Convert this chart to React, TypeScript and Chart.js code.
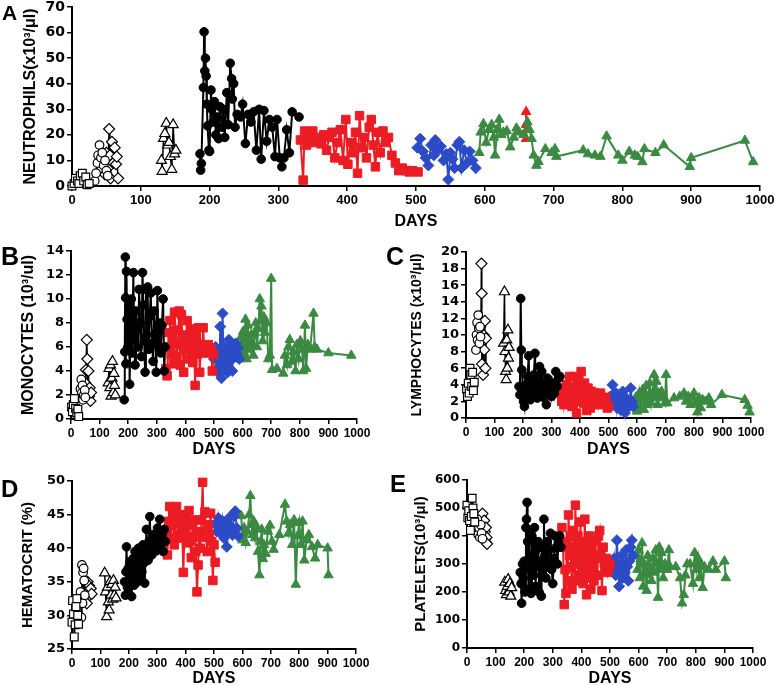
import React, { useEffect, useRef } from "react";
import { Chart, registerables } from "chart.js";

Chart.register(...registerables);

type P = [number, number];

// ---------- Panel A : NEUTROPHILS ----------
const neutSquares: P[] = [[0, 0], [3, 1], [5, 3], [8, 2], [10, 1], [12, 4], [15, 5], [17, 2], [20, 3.5], [22, 0.5], [25, 1]];
const neutCircles: P[] = [[33, 2], [35, 5], [37, 9], [38, 12], [40, 16], [42, 11], [44, 13], [46, 8], [48, 10], [50, 6], [52, 4]];
const neutDiamonds: P[] = [[45, 9], [48, 4.5], [50, 13], [52, 7], [54, 22.3], [55, 12], [56, 3], [58, 17.3], [60, 9], [62, 15], [64, 8.5], [65, 11.5], [67, 3]];
const neutTriangles: P[] = [[130, 10], [131, 5.7], [133, 18.6], [135, 20.5], [137, 24.5], [139, 16], [141, 17], [143, 11.5], [145, 6.5], [147, 24], [149, 12.5], [151, 14]];
const neutBlack: P[] = [[186, 12.6], [187, 6.2], [188, 8.8], [191, 38.5], [192, 60.3], [193, 45], [194, 50], [195, 43], [196, 32], [197, 23.5], [199, 14], [200, 13.5], [202, 37.5], [203, 30], [205, 25], [207, 33], [209, 20], [211, 27], [213, 18.5], [215, 31], [218, 23], [220, 30], [222, 19], [225, 36.5], [227, 24], [230, 48], [232, 42], [233, 34], [235, 40], [237, 23], [240, 28], [245, 27], [248, 32], [252, 16.6], [256, 28], [260, 25], [264, 29], [268, 14], [272, 30], [275, 10.5], [279, 29.5], [283, 17.5], [287, 26], [291, 23], [295, 11.5], [298, 26], [302, 11], [305, 7.5], [308, 11], [312, 22], [316, 13], [320, 29], [330, 27]];
const neutRed: P[] = [[332, 18], [336, 2.3], [338, 21.5], [341, 16], [345, 19], [350, 21.5], [353, 17], [358, 19], [362, 16.5], [366, 20], [370, 14], [374, 19], [378, 21], [382, 11], [386, 17], [390, 22], [394, 10], [398, 26], [401, 8.5], [405, 17], [409, 13], [412, 21], [415, 5], [418, 27.5], [421, 15], [425, 19], [428, 11], [432, 23], [435, 26], [438, 16], [441, 7.5], [444, 21], [448, 13], [452, 21.5], [456, 17], [460, 19], [465, 12], [470, 9], [475, 6], [480, 7], [485, 6], [490, 5.5], [495, 6], [503, 5.5]];
const neutBlue: P[] = [[502, 15], [506, 18.5], [510, 13.5], [514, 11], [518, 8], [522, 16], [526, 12], [528, 18], [532, 14], [536, 15.5], [540, 10], [544, 12.5], [547, 2.5], [550, 13], [553, 10.5], [556, 7], [560, 16], [563, 17.3], [566, 7], [570, 14], [574, 9], [578, 13.5], [582, 10], [587, 7]];
const neutGreen: P[] = [[592, 13], [594, 21], [598, 24.3], [602, 17], [606, 22], [610, 24], [613, 19], [615, 12], [618, 22], [621, 26], [624, 20], [627, 21], [632, 21.5], [637, 15.2], [642, 19], [646, 22.6], [650, 21], [656, 20], [662, 25], [665, 22], [668, 18.5], [671, 12], [675, 8], [678, 9.5], [688, 14.5], [697, 13], [702, 14.5], [704, 11.5], [743, 14], [750, 12.5], [760, 12], [768, 11.5], [777, 19.5], [794, 12], [800, 10], [810, 13.5], [818, 12], [822, 11.5], [829, 9.4], [832, 14.5], [848, 13], [860, 16], [898, 7.5], [900, 11], [978, 17.8], [990, 9.4]];
const neutRedTriangles: P[] = [[660, 29], [660, 24], [661, 22], [660, 18.5]];

// ---------- Panel B : MONOCYTES ----------
const monoSquares: P[] = [[2, 1.0], [5, 0.6], [8, 1.2], [12, 1.7], [16, 0.9], [20, 0.5], [24, 0.8], [27, 0.2]];
const monoCircles: P[] = [[33, 2.5], [36, 3.3], [38, 2.2], [40, 2.8], [42, 1.6], [45, 2.0], [48, 2.4], [50, 1.8]];
const monoDiamonds: P[] = [[50, 3.0], [52, 4.1], [55, 6.6], [57, 5.0], [59, 2.3], [61, 4.0], [63, 1.9], [65, 2.6], [68, 1.5], [70, 2.2]];
const monoTriangles: P[] = [[130, 3.0], [133, 4.2], [136, 2.6], [138, 4.5], [140, 1.9], [143, 3.4], [145, 4.8], [148, 2.2], [150, 3.8], [152, 2.8], [155, 2.0]];
const monoBlack: P[] = [[186, 1.6], [188, 5.6], [190, 13.5], [191, 10.1], [192, 4.6], [194, 12.3], [196, 8.3], [199, 6.0], [203, 9.8], [205, 2.9], [208, 7.2], [211, 10.0], [214, 5.5], [218, 12.2], [221, 6.8], [224, 4.5], [227, 9.0], [231, 7.5], [235, 6.0], [238, 10.8], [242, 8.0], [246, 5.2], [250, 12.2], [253, 9.5], [256, 6.5], [259, 3.9], [262, 10.8], [265, 7.0], [268, 11.0], [271, 5.8], [275, 8.5], [279, 10.5], [283, 6.3], [287, 4.8], [291, 9.0], [295, 7.2], [298, 3.9], [302, 10.7], [306, 6.0], [310, 8.0], [314, 5.5], [318, 7.8], [322, 10.0], [326, 4.0], [329, 6.0]];
const monoRed: P[] = [[332, 4.2], [336, 3.6], [340, 6.0], [343, 7.2], [346, 8.2], [350, 5.4], [354, 6.6], [358, 4.6], [362, 8.9], [366, 7.4], [370, 5.2], [374, 6.2], [378, 9.0], [382, 4.5], [386, 8.7], [390, 6.4], [394, 3.9], [398, 7.0], [402, 5.8], [406, 8.2], [410, 6.3], [414, 5.0], [418, 7.5], [422, 5.6], [426, 4.7], [430, 7.0], [434, 2.8], [438, 6.8], [442, 5.4], [446, 7.6], [450, 3.9], [454, 6.2], [458, 5.5], [462, 7.6], [466, 5.8], [470, 6.0], [475, 5.6], [480, 6.2], [485, 5.5], [490, 5.8], [494, 4.0], [498, 5.4]];
const monoBlue: P[] = [[500, 5.0], [505, 6.0], [510, 4.2], [514, 5.5], [518, 3.8], [522, 7.7], [526, 3.4], [530, 8.8], [533, 5.0], [536, 6.0], [540, 4.3], [544, 5.5], [548, 3.9], [552, 6.6], [556, 4.8], [560, 5.6], [564, 4.0], [568, 6.2], [572, 5.2], [576, 6.3], [580, 5.4], [584, 5.9], [588, 5.0]];
const monoGreen: P[] = [[590, 5.0], [594, 6.8], [598, 5.3], [602, 7.3], [606, 5.5], [610, 8.3], [614, 5.0], [618, 7.8], [622, 6.3], [626, 5.8], [630, 7.0], [634, 6.3], [638, 5.3], [642, 7.2], [646, 8.0], [650, 6.0], [655, 7.5], [660, 10.0], [663, 8.2], [666, 9.4], [670, 6.5], [674, 8.5], [678, 7.2], [684, 8.0], [690, 5.0], [695, 5.3], [700, 11.7], [703, 4.1], [720, 4.2], [742, 3.8], [748, 5.3], [755, 4.5], [760, 6.0], [765, 6.6], [772, 4.8], [778, 5.6], [785, 4.0], [790, 6.2], [796, 5.0], [802, 6.5], [808, 5.8], [812, 4.0], [818, 7.8], [822, 4.2], [828, 6.2], [836, 5.8], [848, 8.8], [852, 6.0], [860, 5.8], [900, 5.5], [980, 5.3]];

// ---------- Panel C : LYMPHOCYTES ----------
const lymphSquares: P[] = [[2, 3.5], [5, 2.6], [8, 4.2], [11, 3.0], [14, 6.0], [17, 5.2], [20, 3.8], [23, 5.5], [26, 3.3], [29, 4.3]];
const lymphCircles: P[] = [[35, 8.2], [37, 10.0], [39, 11.5], [41, 9.4], [43, 12.4], [45, 10.8], [47, 9.0], [49, 11.0], [51, 9.8]];
const lymphDiamonds: P[] = [[50, 11.0], [52, 9.0], [54, 18.6], [55, 15.0], [56, 6.5], [58, 11.6], [60, 5.2], [62, 10.0], [64, 8.2], [66, 11.7], [68, 6.0], [70, 9.6]];
const lymphTriangles: P[] = [[132, 9.0], [135, 15.2], [137, 8.0], [139, 5.6], [141, 4.6], [143, 9.4], [145, 6.0], [147, 10.6], [149, 7.2], [151, 8.5]];
const lymphBlack: P[] = [[186, 3.8], [189, 2.8], [192, 14.4], [194, 8.2], [196, 5.8], [199, 3.5], [202, 2.0], [205, 1.4], [208, 4.0], [212, 2.8], [216, 5.0], [220, 7.5], [223, 3.2], [226, 2.2], [230, 4.6], [234, 3.0], [238, 5.2], [242, 7.8], [246, 3.6], [250, 2.4], [254, 4.4], [258, 6.2], [262, 3.0], [266, 5.6], [270, 2.5], [274, 4.0], [278, 3.4], [282, 1.6], [286, 4.8], [290, 2.8], [295, 3.6], [300, 2.6], [305, 4.2], [310, 3.0], [315, 5.6], [320, 3.8], [325, 4.8], [330, 5.0]];
const lymphRed: P[] = [[332, 3.0], [336, 2.0], [340, 3.6], [344, 1.6], [348, 2.6], [352, 4.0], [356, 2.2], [360, 3.4], [364, 5.0], [368, 2.8], [372, 1.4], [376, 3.8], [380, 5.0], [384, 2.4], [388, 0.6], [392, 3.2], [396, 4.6], [400, 2.0], [404, 5.6], [408, 3.0], [412, 1.8], [416, 4.2], [420, 2.6], [424, 0.9], [428, 3.6], [432, 2.2], [436, 1.2], [440, 3.2], [444, 2.6], [448, 1.8], [452, 3.0], [456, 2.2], [460, 2.8], [464, 1.6], [468, 2.4], [472, 3.0], [478, 2.2], [484, 1.8], [490, 2.5], [496, 1.2], [500, 1.4]];
const lymphBlue: P[] = [[502, 2.0], [506, 2.6], [510, 1.6], [514, 4.0], [518, 2.4], [522, 1.8], [526, 3.0], [530, 1.2], [534, 2.2], [538, 2.8], [542, 1.0], [546, 2.0], [550, 3.2], [554, 1.5], [558, 0.6], [562, 2.4], [566, 1.2], [570, 2.0], [574, 1.6], [578, 3.6], [582, 2.0], [586, 1.4]];
const lymphGreen: P[] = [[596, 2.5], [600, 0.8], [604, 2.0], [608, 3.0], [612, 1.2], [616, 2.4], [620, 3.4], [624, 1.0], [628, 2.8], [632, 3.9], [636, 1.6], [640, 2.6], [645, 4.2], [650, 1.8], [655, 3.0], [660, 5.2], [664, 2.4], [668, 4.4], [672, 1.6], [676, 3.0], [680, 2.6], [686, 3.2], [692, 2.4], [698, 1.8], [702, 5.2], [706, 1.8], [730, 2.4], [750, 2.6], [765, 3.0], [772, 2.0], [780, 2.6], [788, 1.6], [795, 2.4], [800, 3.0], [806, 1.8], [812, 0.7], [818, 2.4], [824, 1.2], [830, 2.2], [840, 2.0], [852, 2.4], [860, 1.6], [898, 2.8], [978, 2.2], [988, 1.5], [995, 0.7]];

// ---------- Panel D : HEMATOCRIT ----------
const hctSquares: P[] = [[0, 29.0], [2, 32.2], [5, 30.2], [8, 26.8], [11, 28.6], [14, 31.3], [17, 32.5], [20, 30.0], [23, 28.7]];
const hctCircles: P[] = [[30, 33.5], [33, 29.7], [35, 37.5], [37, 31.8], [39, 36.4], [41, 37.0], [43, 35.2], [45, 33.0]];
const hctDiamonds: P[] = [[47, 33.2], [50, 34.8], [52, 31.8], [55, 35.0], [58, 33.6], [60, 34.4], [63, 33.0], [66, 34.0], [69, 33.2]];
const hctTriangles: P[] = [[115, 36.3], [118, 33.5], [122, 29.8], [125, 34.2], [128, 32.0], [131, 30.8], [134, 35.0], [137, 33.0], [140, 34.6], [143, 32.4], [146, 35.2], [149, 33.0], [152, 34.2], [155, 32.6]];
const hctBlack: P[] = [[185, 35.0], [188, 33.0], [190, 36.5], [192, 40.2], [195, 34.2], [198, 37.0], [201, 33.2], [204, 38.0], [207, 35.6], [210, 32.8], [213, 36.8], [216, 38.5], [219, 34.5], [222, 39.5], [225, 36.2], [228, 38.8], [231, 35.0], [234, 40.0], [237, 37.2], [240, 35.8], [243, 39.0], [246, 36.5], [250, 40.5], [253, 37.8], [256, 34.8], [259, 38.8], [262, 42.8], [265, 40.0], [268, 38.2], [271, 41.0], [274, 44.7], [277, 40.5], [281, 39.0], [285, 42.0], [289, 40.8], [293, 41.6], [297, 39.6], [301, 43.0], [305, 41.0], [309, 44.3], [313, 40.2], [317, 42.0], [321, 39.5], [325, 42.8], [329, 41.0]];
const hctRed: P[] = [[332, 42.0], [336, 39.0], [340, 44.0], [344, 46.2], [348, 41.5], [352, 43.5], [356, 45.0], [360, 40.5], [364, 44.5], [368, 46.2], [372, 42.0], [376, 43.8], [380, 41.5], [384, 45.0], [388, 43.0], [392, 36.4], [396, 42.0], [400, 44.8], [404, 40.8], [408, 43.5], [412, 45.6], [416, 41.0], [420, 38.6], [424, 43.5], [428, 41.6], [432, 44.2], [436, 39.5], [440, 33.5], [444, 37.5], [448, 42.5], [452, 40.0], [456, 44.2], [460, 49.8], [464, 42.0], [468, 45.4], [472, 41.6], [476, 39.5], [480, 43.5], [484, 42.0], [488, 45.2], [492, 41.0], [496, 35.2], [500, 40.5], [504, 37.9]];
const hctBlue: P[] = [[505, 43.6], [510, 42.5], [515, 44.5], [520, 43.0], [525, 42.2], [530, 44.0], [535, 41.5], [540, 43.4], [545, 40.2], [550, 42.8], [555, 44.6], [560, 43.2], [565, 42.0], [570, 44.8], [575, 45.5], [580, 43.0], [585, 41.8]];
const hctGreen: P[] = [[596, 44.8], [600, 41.2], [606, 43.0], [612, 40.8], [618, 42.5], [624, 45.0], [628, 47.8], [632, 43.5], [636, 42.0], [640, 44.0], [645, 41.5], [650, 43.2], [655, 39.5], [660, 36.0], [664, 41.0], [668, 42.8], [672, 38.4], [676, 40.5], [682, 39.2], [690, 42.5], [697, 43.4], [704, 41.0], [710, 39.8], [730, 42.0], [750, 46.5], [756, 44.0], [762, 42.2], [768, 43.5], [775, 40.5], [782, 44.2], [788, 34.6], [794, 41.8], [800, 43.8], [806, 40.5], [812, 44.0], [818, 38.2], [826, 41.2], [834, 42.0], [845, 40.2], [856, 38.5], [865, 40.5], [900, 40.0], [903, 36.0]];

// ---------- Panel E : PLATELETS ----------
const pltSquares: P[] = [[0, 510], [3, 465], [6, 490], [9, 455], [12, 420], [15, 470], [18, 535], [21, 500], [24, 480], [27, 450]];
const pltCircles: P[] = [[30, 445], [33, 420], [36, 460], [39, 405], [42, 430], [45, 395], [48, 440], [51, 410], [54, 390]];
const pltDiamonds: P[] = [[46, 450], [49, 470], [52, 425], [54, 480], [56, 440], [58, 400], [60, 455], [62, 415], [64, 380], [66, 430], [68, 395], [70, 372]];
const pltTriangles: P[] = [[132, 235], [135, 205], [138, 190], [141, 220], [144, 245], [147, 200], [150, 230], [153, 185], [156, 215]];
const pltBlack: P[] = [[186, 270], [189, 230], [191, 160], [194, 300], [197, 250], [200, 310], [203, 200], [206, 430], [208, 460], [210, 520], [212, 380], [215, 210], [218, 420], [221, 280], [224, 195], [227, 400], [230, 330], [233, 260], [236, 430], [240, 220], [243, 350], [246, 290], [249, 380], [252, 200], [256, 310], [260, 185], [263, 360], [266, 280], [269, 460], [272, 330], [276, 250], [280, 380], [284, 300], [288, 350], [292, 410], [296, 280], [300, 230], [304, 320], [308, 400], [312, 360], [316, 300], [320, 380], [324, 400], [328, 360]];
const pltRed: P[] = [[332, 430], [336, 360], [340, 155], [343, 280], [346, 195], [349, 380], [352, 240], [355, 475], [358, 330], [361, 400], [364, 290], [367, 210], [370, 360], [373, 420], [376, 240], [379, 510], [382, 350], [385, 300], [388, 400], [391, 260], [394, 330], [397, 450], [400, 280], [403, 380], [406, 230], [409, 340], [412, 460], [415, 300], [418, 190], [421, 370], [424, 250], [427, 400], [430, 320], [433, 210], [436, 350], [440, 290], [444, 240], [448, 380], [452, 320], [456, 260], [460, 400], [464, 420], [468, 330], [472, 205], [476, 360], [480, 300], [484, 280], [488, 320], [492, 270], [496, 290], [500, 300]];
const pltBlue: P[] = [[505, 300], [510, 280], [515, 320], [520, 260], [524, 385], [528, 300], [532, 220], [536, 280], [540, 330], [544, 250], [548, 300], [552, 270], [556, 350], [560, 290], [564, 240], [568, 310], [572, 360], [576, 385], [580, 330]];
const pltGreen: P[] = [[592, 330], [596, 280], [600, 350], [604, 250], [608, 310], [612, 375], [616, 220], [620, 300], [624, 270], [628, 205], [632, 330], [636, 260], [640, 290], [645, 240], [650, 320], [655, 270], [660, 350], [664, 300], [668, 180], [672, 360], [676, 280], [680, 340], [686, 250], [692, 300], [700, 280], [706, 350], [710, 290], [730, 290], [745, 250], [752, 160], [758, 190], [764, 260], [770, 300], [780, 300], [790, 230], [796, 340], [802, 280], [808, 320], [812, 250], [818, 300], [824, 215], [830, 290], [845, 280], [860, 310], [870, 280], [900, 310], [905, 250]];

// ---------- styling ----------
const RED = "#ec1c24";
const BLUE = "#2b4cc6";
const GREEN = "#3b8a42";

type Kind = "wsq" | "wci" | "wdi" | "wtr" | "bk" | "rd" | "bl" | "gr" | "rtr";
const STYLE: Record<Kind, { ps: string; r: number; fill: string; stroke: string; line: string; lw: number; bw: number }> = {
  wsq: { ps: "rect", r: 5.5, fill: "#fff", stroke: "#000", line: "#000", lw: 1.5, bw: 1.2 },
  wci: { ps: "circle", r: 4.3, fill: "#fff", stroke: "#000", line: "#000", lw: 1.5, bw: 1.2 },
  wdi: { ps: "rectRot", r: 5.5, fill: "#fff", stroke: "#000", line: "#000", lw: 1.5, bw: 1.2 },
  wtr: { ps: "triangle", r: 5.8, fill: "#fff", stroke: "#000", line: "#000", lw: 1.5, bw: 1.2 },
  bk: { ps: "circle", r: 4.3, fill: "#000", stroke: "#000", line: "#000", lw: 2, bw: 1 },
  rd: { ps: "rect", r: 6, fill: RED, stroke: RED, line: RED, lw: 2, bw: 1 },
  bl: { ps: "rectRot", r: 5.5, fill: BLUE, stroke: BLUE, line: BLUE, lw: 2, bw: 1 },
  gr: { ps: "triangle", r: 5.5, fill: GREEN, stroke: GREEN, line: GREEN, lw: 2, bw: 1 },
  rtr: { ps: "triangle", r: 5.5, fill: RED, stroke: RED, line: RED, lw: 2, bw: 1 },
};

interface PanelSpec {
  left: number; top: number; width: number; height: number;
  series: [P[], Kind][];
  yMin: number; yMax: number; yStep: number;
  yTitle: string; yTitleSize: number; yTitlePad: number;
  yWidth: number; xHeight: number; padTop: number; padRight: number;
  yTickSize: number; xTickSize: number; daysPad: number;
}

const panels: PanelSpec[] = [
  {
    left: 0, top: 0, width: 775, height: 232,
    series: [[neutSquares, "wsq"], [neutCircles, "wci"], [neutDiamonds, "wdi"], [neutTriangles, "wtr"], [neutBlack, "bk"], [neutRed, "rd"], [neutBlue, "bl"], [neutGreen, "gr"], [neutRedTriangles, "rtr"]],
    yMin: 0, yMax: 70, yStep: 10, yTitle: "NEUTROPHILS(x10³/μl)", yTitleSize: 16, yTitlePad: 21,
    yWidth: 72, xHeight: 46, padTop: 6, padRight: 15, yTickSize: 14, xTickSize: 13, daysPad: 1,
  },
  {
    left: 0, top: 238, width: 385, height: 222,
    series: [[monoSquares, "wsq"], [monoCircles, "wci"], [monoDiamonds, "wdi"], [monoTriangles, "wtr"], [monoBlack, "bk"], [monoRed, "rd"], [monoBlue, "bl"], [monoGreen, "gr"]],
    yMin: 0, yMax: 14, yStep: 2, yTitle: "MONOCYTES (10³/ul)", yTitleSize: 16, yTitlePad: 19,
    yWidth: 71, xHeight: 41, padTop: 13, padRight: 28, yTickSize: 13, xTickSize: 12, daysPad: 1,
  },
  {
    left: 385, top: 238, width: 390, height: 222,
    series: [[lymphSquares, "wsq"], [lymphCircles, "wci"], [lymphDiamonds, "wdi"], [lymphTriangles, "wtr"], [lymphBlack, "bk"], [lymphRed, "rd"], [lymphBlue, "bl"], [lymphGreen, "gr"]],
    yMin: 0, yMax: 20, yStep: 2, yTitle: "LYMPHOCYTES (x10³/μl)", yTitleSize: 14, yTitlePad: 24,
    yWidth: 81, xHeight: 42, padTop: 14, padRight: 24, yTickSize: 13, xTickSize: 12, daysPad: 1,
  },
  {
    left: 0, top: 465, width: 385, height: 225,
    series: [[hctSquares, "wsq"], [hctCircles, "wci"], [hctDiamonds, "wdi"], [hctTriangles, "wtr"], [hctBlack, "bk"], [hctRed, "rd"], [hctBlue, "bl"], [hctGreen, "gr"]],
    yMin: 25, yMax: 50, yStep: 5, yTitle: "HEMATOCRIT (%)", yTitleSize: 15, yTitlePad: 19,
    yWidth: 72, xHeight: 41, padTop: 16, padRight: 29, yTickSize: 13, xTickSize: 12, daysPad: 2,
  },
  {
    left: 385, top: 465, width: 390, height: 225,
    series: [[pltSquares, "wsq"], [pltCircles, "wci"], [pltDiamonds, "wdi"], [pltTriangles, "wtr"], [pltBlack, "bk"], [pltRed, "rd"], [pltBlue, "bl"], [pltGreen, "gr"]],
    yMin: 0, yMax: 600, yStep: 100, yTitle: "PLATELETS(10³/μl)", yTitleSize: 15, yTitlePad: 27,
    yWidth: 82, xHeight: 42, padTop: 15, padRight: 22, yTickSize: 12, xTickSize: 12, daysPad: 2,
  },
];

const letters = [
  { t: "A", left: 2, top: 2, size: 21 },
  { t: "B", left: 1, top: 244, size: 25 },
  { t: "C", left: 386, top: 244, size: 25 },
  { t: "D", left: 1, top: 477, size: 24 },
  { t: "E", left: 390, top: 472, size: 24 },
];

const SANS = "Arial, 'Liberation Sans', sans-serif";
const WIDE = "'DejaVu Sans', Arial, sans-serif";

function Panel({ spec }: { spec: PanelSpec }) {
  const ref = useRef<HTMLCanvasElement | null>(null);
  useEffect(() => {
    if (!ref.current) return;
    const datasets = spec.series.map(([arr, kind]) => {
      const s = STYLE[kind];
      return {
        data: arr.map(([x, y]) => ({ x, y })),
        showLine: true,
        tension: 0,
        fill: false,
        clip: false as any,
        borderColor: s.line,
        borderWidth: s.lw,
        pointStyle: s.ps as any,
        pointRadius: s.r,
        pointBackgroundColor: s.fill,
        pointBorderColor: s.stroke,
        pointBorderWidth: s.bw,
      };
    });
    const chart = new Chart(ref.current, {
      type: "line",
      data: { datasets },
      options: {
        animation: false,
        responsive: false,
        maintainAspectRatio: false,
        devicePixelRatio: 1,
        events: [],
        layout: { padding: { top: spec.padTop, right: spec.padRight, left: 0, bottom: 0 } },
        plugins: { legend: { display: false }, tooltip: { enabled: false } },
        scales: {
          x: {
            type: "linear",
            min: 0,
            max: 1000,
            afterFit: (s: any) => { s.height = spec.xHeight; s.paddingLeft = 0; s.paddingRight = 0; },
            ticks: {
              stepSize: 100, autoSkip: false, maxRotation: 0, color: "#000", padding: 2,
              font: { family: SANS, weight: "bold", size: spec.xTickSize },
              callback: (v: any) => String(v),
            },
            grid: { drawOnChartArea: false, drawTicks: true, tickLength: 5, color: "#000", lineWidth: 1.5 },
            border: { display: true, color: "#000", width: 2 },
            title: { display: true, text: "DAYS", color: "#000", font: { family: SANS, weight: "bold", size: 16 }, padding: { top: 0, bottom: spec.daysPad } },
          },
          y: {
            type: "linear",
            min: spec.yMin,
            max: spec.yMax,
            afterFit: (s: any) => { s.width = spec.yWidth; s.paddingTop = 0; s.paddingBottom = 0; },
            ticks: {
              stepSize: spec.yStep, autoSkip: false, color: "#000", padding: 2,
              font: { family: WIDE, weight: "bold", size: spec.yTickSize },
              callback: (v: any) => String(v),
            },
            grid: { drawOnChartArea: false, drawTicks: true, tickLength: 5, color: "#000", lineWidth: 1.5 },
            border: { display: true, color: "#000", width: 2 },
            title: { display: true, text: spec.yTitle, color: "#000", font: { family: SANS, weight: "bold", size: spec.yTitleSize }, padding: { top: spec.yTitlePad, bottom: 0 } },
          },
        },
      } as any,
    });
    return () => chart.destroy();
  }, [spec]);
  return (
    <canvas
      ref={ref}
      width={spec.width}
      height={spec.height}
      style={{ position: "absolute", left: spec.left, top: spec.top, width: spec.width, height: spec.height }}
    />
  );
}

export default function App() {
  return (
    <div style={{ position: "absolute", left: 0, top: 0, width: 775, height: 685, background: "#fff", overflow: "hidden" }}>
      {panels.map((p, i) => (
        <Panel key={i} spec={p} />
      ))}
      {letters.map((l) => (
        <div
          key={l.t}
          style={{ position: "absolute", left: l.left, top: l.top, fontFamily: SANS, fontWeight: "bold", fontSize: l.size, lineHeight: 1, color: "#000" }}
        >
          {l.t}
        </div>
      ))}
    </div>
  );
}
